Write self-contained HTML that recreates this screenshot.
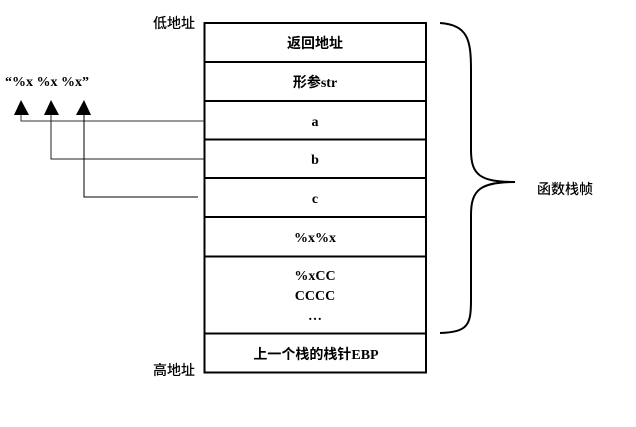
<!DOCTYPE html>
<html><head><meta charset="utf-8"><style>
body{margin:0;background:#fff;width:636px;height:427px;overflow:hidden;}
</style></head><body>
<svg width="636" height="427" xmlns="http://www.w3.org/2000/svg" style="position:absolute;left:0;top:0">
<g font-family="Liberation Serif, Noto Sans CJK SC, serif" font-weight="bold" font-size="14" text-anchor="middle" fill="#000">
<rect x="204.5" y="23" width="221.5" height="349.5" fill="none" stroke="#000" stroke-width="2"/>
<g stroke="#000" stroke-width="2">
<line x1="204" y1="62" x2="426" y2="62"/>
<line x1="204" y1="101" x2="426" y2="101"/>
<line x1="204" y1="139.5" x2="426" y2="139.5"/>
<line x1="204" y1="178" x2="426" y2="178"/>
<line x1="204" y1="217" x2="426" y2="217"/>
<line x1="204" y1="256.5" x2="426" y2="256.5"/>
<line x1="204" y1="333.5" x2="426" y2="333.5"/>
</g>
<text x="315" y="48">返回地址</text>
<text x="315" y="87">形参str</text>
<text x="315" y="126">a</text>
<text x="315" y="164">b</text>
<text x="315" y="203">c</text>
<text x="315" y="242">%x%x</text>
<text x="315" y="280">%xCC</text>
<text x="315" y="300">CCCC</text>
<text x="315" y="320">…</text>
<text x="316" y="359">上一个栈的栈针EBP</text>
<text x="174" y="28" font-weight="500">低地址</text>
<text x="174" y="375" font-weight="500">高地址</text>
<text x="565" y="194" font-weight="500">函数栈帧</text>
<text x="5" y="86" text-anchor="start">“%x %x %x”</text>
</g>
<path d="M440,23 C468,25 471,40 471,70 L471,150 C471,175 480,182 515,182 C480,182 471,190 471,215 L471,300 C471,325 468,332 440,333" fill="none" stroke="#000" stroke-width="2"/>
<g fill="none" stroke-width="1">
<path d="M204,121 H21 V114" stroke="#333"/>
<path d="M204,159 H51 V114" stroke="#222"/>
<path d="M198,197 H84 V114" stroke="#000"/>
</g>
<polygon points="21,100 14,115 29,115" fill="#000"/>
<polygon points="51,100 44,115 59,115" fill="#000"/>
<polygon points="84,100 76,115 91,115" fill="#000"/>
</svg>
</body></html>
